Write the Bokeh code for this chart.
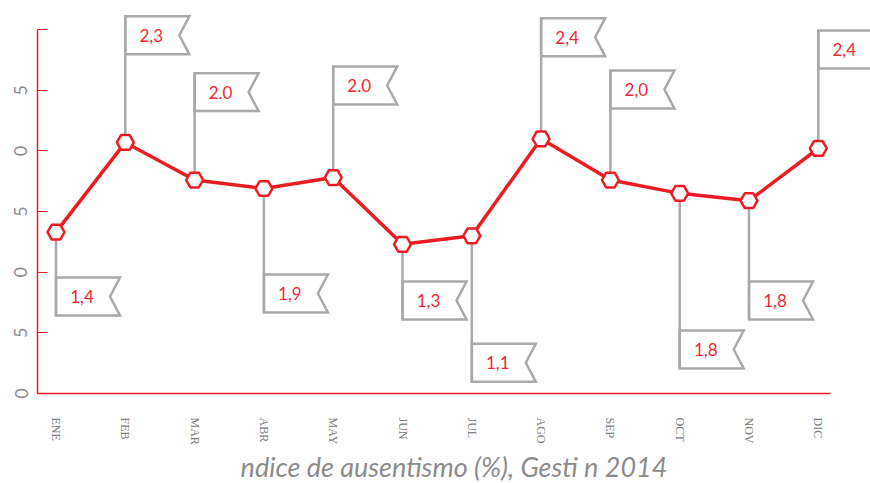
from bokeh.plotting import figure
from bokeh.models import FixedTicker, Title, Range1d
from bokeh.core.properties import value
from bokeh.embed import file_html
from bokeh.resources import INLINE

# ---------------- data ----------------
months = ["ENE", "FEB", "MAR", "ABR", "MAY", "JUN", "JUL", "AGO", "SEP", "OCT", "NOV", "DIC"]
absence = [1.33, 2.07, 1.76, 1.69, 1.78, 1.23, 1.30, 2.10, 1.76, 1.65, 1.59, 2.02]
flag_labels = ["1,4", "2,3", "2.0", "1,9", "2.0", "1,3", "1,1", "2,4", "2,0", "1,8", "1,8", "2,4"]
y_tick_values = [0, 0.5, 1.0, 1.5, 2.0, 2.5, 3.0]
y_tick_labels = ["0", "5", "0", "5", "0", "5", ""]
title_text = "ndice de ausentismo (%), Gesti n 2014"

# ---------------- layout of the flags (not data) ----------------
flag_up = [False, True, True, False, True, False, False, True, True, False, False, True]
flag_top = [0.956, 3.110, 2.641, 0.981, 2.696, 0.923, 0.410, 3.094, 2.663, 0.519, 0.923, 2.993]
FLAG_W = 0.9235   # data units along x
FLAG_N = 0.144    # notch depth
FLAG_H = 0.313    # data units along y
TEXT_DX = 0.375

RED = "#ed1c24"
GRAY = "#a7a9ac"

xs = list(range(len(months)))

p = figure(width=870, height=483, output_backend="svg", toolbar_location=None,
           x_range=Range1d(-0.267, 11.753), y_range=Range1d(0, 3.240),
           min_border_left=37, min_border_right=0, min_border_top=0, min_border_bottom=90)
p.outline_line_color = None
p.grid.visible = False
p.background_fill_color = "white"

# flags and poles
fx, fy, px0, py0, px1, py1, tx, ty = [], [], [], [], [], [], [], []
for i, v in enumerate(absence):
    t = flag_top[i]
    b = t - FLAG_H
    x0 = xs[i]
    fx.append([x0, x0 + FLAG_W, x0 + FLAG_W - FLAG_N, x0 + FLAG_W, x0])
    fy.append([t, t, (t + b) / 2, b, b])
    px0.append(x0); py0.append(v)
    px1.append(x0); py1.append(b if not flag_up[i] else t)
    tx.append(x0 + TEXT_DX); ty.append((t + b) / 2)

p.patches(fx, fy, fill_color="white", line_color=GRAY, line_width=2.5, line_join="miter")
p.segment(px0, py0, px1, py1, line_color=GRAY, line_width=2.5)
p.text(tx, ty, text=flag_labels, text_align="center", text_baseline="middle",
       text_font=value("Lato"), text_font_size="17px", text_color="#ee2a35")

# main series
p.line(xs, absence, line_color=RED, line_width=3.5)
p.scatter(xs, absence, marker="hex", size=17, fill_color="white",
          line_color=RED, line_width=2.5)

# axes
xa = p.xaxis[0]
xa.ticker = FixedTicker(ticks=xs)
xa.major_label_overrides = {i: m for i, m in enumerate(months)}
xa.bounds = (-0.267, 11.176)
xa.axis_line_color = RED
xa.axis_line_width = 1.5
xa.major_tick_line_color = None
xa.minor_tick_line_color = None
xa.major_label_orientation = "vertical"
xa.major_label_standoff = 18
xa.major_label_text_font = "Liberation Serif"
xa.major_label_text_font_size = "12px"
xa.major_label_text_color = "#808080"

ya = p.yaxis[0]
ya.ticker = FixedTicker(ticks=y_tick_values)
ya.major_label_overrides = {v: l for v, l in zip(y_tick_values, y_tick_labels)}
ya.bounds = (0, 3.0)
ya.axis_line_color = RED
ya.axis_line_width = 1.5
ya.major_tick_line_color = RED
ya.major_tick_in = 10
ya.major_tick_out = 0
ya.minor_tick_line_color = None
ya.major_label_orientation = "vertical"
ya.major_label_standoff = 10
ya.major_label_text_font = "Lato"
ya.major_label_text_font_size = "18px"
ya.major_label_text_color = "#8c8c8c"

title = Title(text=title_text, align="center", text_font="Lato", text_font_style="italic",
              text_font_size="27px", text_color="#8c8c8c", standoff=0)
p.add_layout(title, "below")

open("out.html", "w").write(file_html(p, INLINE))
